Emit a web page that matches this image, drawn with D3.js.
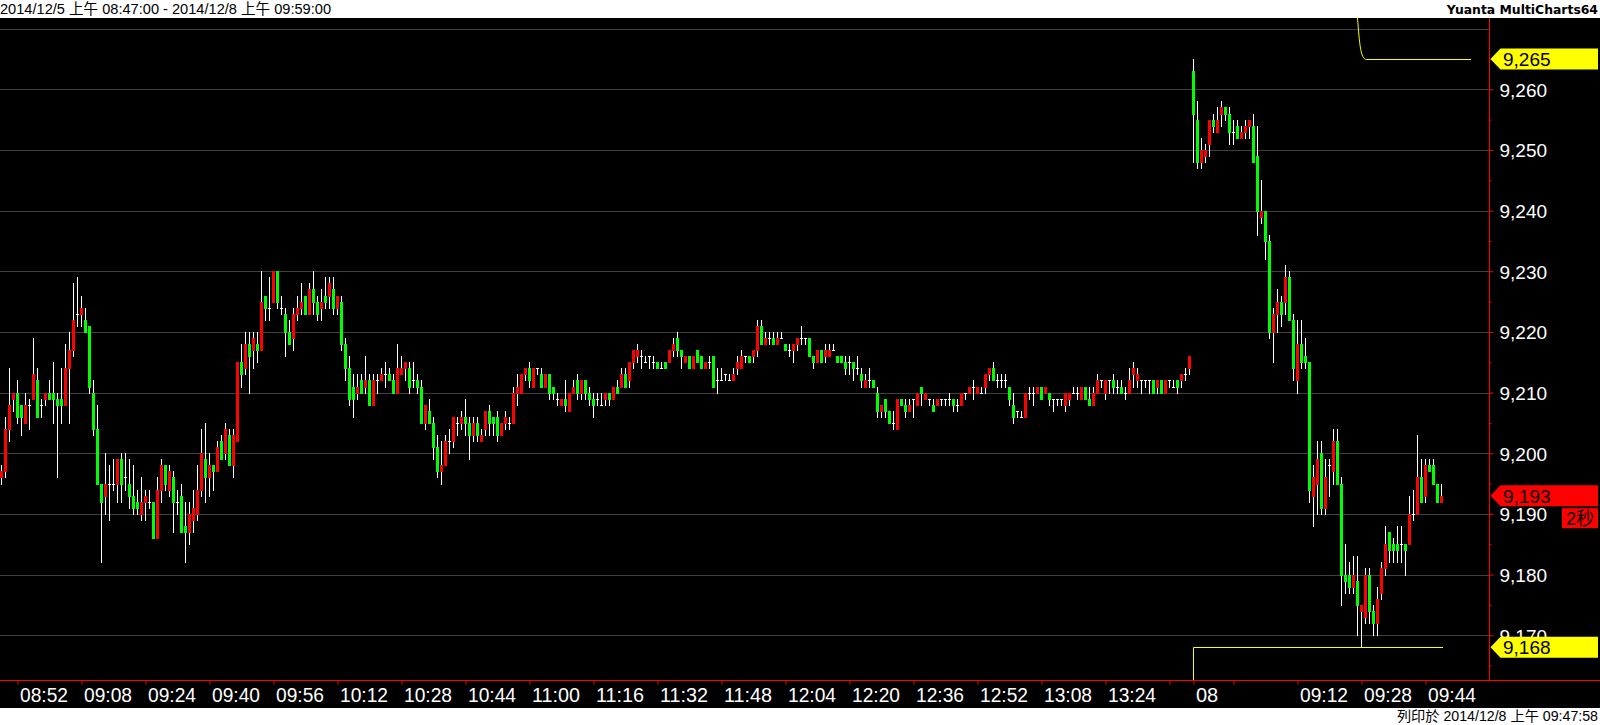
<!DOCTYPE html>
<html><head><meta charset="utf-8">
<script src="https://cdn.jsdelivr.net/npm/d3@7"></script>
<style>html,body{margin:0;padding:0;background:#fff;overflow:hidden}</style>
</head><body><svg id="c" width="1600" height="725"></svg>
<script>
// ---------- DATA ----------
const sessions = [
  {date: "2014/12/5", day: "05", start: "08:48", end: "13:45"},
  {date: "2014/12/8", day: "08", start: "08:46", end: "09:48"}
];
const opens = [
9196,9197,9204,9209,9210,9208,9205,9208,9209,9212, 9208,9209,9210,9210,9209,9209,9208,9214,9217,9223,
9223,9222,9221,9210,9204,9195,9193,9195,9195,9195, 9199,9196,9195,9193,9192,9190,9192,9192,9192,9186,
9194,9198,9194,9196,9192,9193,9188,9187,9189,9190, 9194,9199,9196,9198,9197,9202,9200,9203,9198,9202,
9215,9214,9218,9217,9218,9217,9226,9224,9225,9230, 9224,9223,9220,9219,9223,9224,9226,9223,9227,9225,
9224,9226,9226,9227,9224,9225,9218,9214,9211,9210, 9212,9211,9212,9208,9212,9212,9213,9213,9212,9210,
9213,9214,9214,9212,9212,9211,9205,9207,9205,9201, 9197,9198,9202,9202,9205,9205,9206,9205,9203,9205,
9202,9204,9207,9206,9206,9203,9205,9205,9205,9210, 9210,9213,9214,9211,9214,9213,9211,9213,9211,9209,
9208,9209,9207,9210,9212,9210,9212,9210,9209,9209, 9208,9209,9210,9209,9211,9211,9213,9212,9215,9216,
9216,9215,9216,9215,9215,9214,9215,9215,9217,9219, 9217,9215,9216,9214,9217,9216,9214,9215,9216,9212,
9212,9213,9212,9212,9214,9214,9216,9216,9216,9217, 9221,9218,9219,9219,9218,9219,9218,9217,9217,9218,
9219,9219,9219,9216,9215,9217,9216,9216,9217,9216, 9216,9215,9215,9215,9214,9213,9211,9212,9212,9210,
9207,9209,9207,9205,9204,9209,9208,9207,9209,9208, 9211,9209,9209,9208,9208,9209,9209,9209,9209,9208,
9208,9210,9210,9211,9210,9210,9211,9213,9214,9212, 9212,9212,9211,9208,9207,9206,9206,9210,9210,9210,
9211,9210,9210,9209,9209,9209,9208,9209,9210,9210, 9209,9211,9209,9208,9210,9212,9210,9212,9212,9211,
9211,9210,9210,9213,9212,9212,9212,9212,9212,9211, 9212,9210,9212,9211,9212,9212,9213,9214,
9263,9255,9248,9249,9251,9255,9253,9256,9257,9256, 9253,9254,9252,9253,9254,9254,9249,9239,9240,9235,
9220,9223,9225,9225,9229,9222,9212,9218,9216,9215, 9193,9195,9200,9191,9198,9197,9202,9195,9180,9180,
9178,9179,9174,9173,9180,9174,9172,9177,9181,9187, 9185,9185,9185,9185,9185,9190,9190,9196,9193,9198,
9198,9195,9192
];
const highs = [
9198,9206,9214,9210,9212,9208,9210,9209,9219,9214, 9209,9210,9212,9215,9210,9214,9218,9220,9228,9229,
9226,9224,9221,9212,9208,9195,9200,9198,9199,9199, 9200,9200,9199,9198,9194,9196,9194,9194,9192,9196,
9199,9198,9198,9197,9194,9195,9192,9192,9194,9198, 9204,9205,9200,9198,9202,9203,9205,9204,9204,9215,
9218,9220,9220,9220,9220,9230,9226,9229,9230,9230, 9226,9224,9222,9224,9226,9228,9226,9228,9230,9226,
9227,9229,9229,9229,9226,9226,9219,9216,9213,9213, 9213,9216,9213,9213,9213,9214,9215,9214,9213,9218,
9216,9215,9215,9215,9213,9212,9208,9209,9206,9203, 9202,9203,9204,9206,9206,9207,9209,9206,9206,9206,
9204,9207,9208,9206,9207,9205,9207,9206,9211,9213, 9213,9214,9215,9214,9214,9214,9213,9213,9211,9210,
9209,9212,9210,9212,9213,9212,9212,9211,9210,9210, 9210,9210,9210,9211,9212,9214,9214,9215,9217,9218,
9217,9216,9216,9216,9215,9215,9215,9217,9219,9220, 9217,9216,9216,9216,9217,9216,9215,9216,9216,9214,
9214,9213,9213,9214,9216,9217,9216,9216,9217,9222, 9222,9220,9220,9220,9220,9220,9218,9218,9218,9219,
9221,9219,9219,9216,9217,9217,9218,9218,9218,9216, 9216,9216,9216,9215,9216,9214,9213,9214,9212,9211,
9208,9209,9207,9207,9209,9209,9209,9209,9209,9210, 9211,9210,9209,9209,9209,9209,9209,9210,9209,9209,
9210,9210,9211,9212,9211,9211,9213,9214,9215,9213, 9213,9213,9211,9210,9207,9207,9210,9211,9211,9211,
9211,9211,9210,9209,9209,9209,9210,9210,9211,9211, 9211,9211,9211,9211,9213,9212,9212,9212,9213,9212,
9212,9211,9214,9215,9214,9212,9212,9212,9212,9212, 9212,9212,9212,9212,9212,9213,9214,9216,
9265,9258,9252,9251,9255,9256,9257,9258,9257,9257, 9255,9255,9254,9255,9255,9256,9254,9245,9240,9236,
9224,9227,9226,9231,9230,9223,9222,9222,9219,9215, 9198,9202,9202,9199,9199,9204,9204,9196,9185,9182,
9183,9183,9175,9181,9181,9175,9178,9182,9188,9187, 9186,9188,9188,9185,9193,9194,9203,9199,9199,9199,
9199,9195,9195
];
const lows = [
9195,9196,9202,9207,9205,9203,9205,9204,9209,9206, 9206,9208,9209,9205,9196,9205,9208,9205,9216,9221,
9221,9220,9210,9203,9195,9182,9190,9189,9194,9192, 9192,9194,9191,9190,9190,9189,9189,9191,9186,9186,
9192,9194,9193,9187,9190,9187,9182,9185,9187,9189, 9193,9192,9193,9194,9197,9199,9199,9198,9196,9202,
9211,9213,9210,9214,9215,9217,9222,9222,9225,9224, 9223,9216,9218,9217,9222,9223,9223,9223,9223,9222,
9222,9224,9224,9223,9223,9217,9212,9208,9206,9209, 9210,9210,9208,9208,9210,9212,9211,9212,9210,9210,
9213,9212,9210,9211,9210,9205,9204,9205,9199,9196, 9195,9198,9200,9201,9203,9204,9203,9199,9202,9202,
9202,9203,9203,9203,9202,9203,9204,9204,9205,9208, 9210,9212,9211,9211,9213,9211,9211,9209,9209,9208,
9208,9207,9207,9210,9209,9209,9209,9208,9206,9208, 9208,9208,9208,9209,9210,9211,9211,9211,9214,9215,
9214,9215,9214,9214,9214,9214,9214,9215,9216,9216, 9214,9215,9214,9214,9215,9214,9214,9214,9211,9210,
9212,9212,9212,9212,9213,9214,9215,9215,9215,9216, 9218,9218,9218,9218,9218,9219,9217,9216,9215,9217,
9218,9218,9216,9214,9215,9215,9215,9216,9217,9215, 9215,9213,9213,9212,9213,9211,9211,9211,9211,9206,
9206,9206,9205,9204,9204,9208,9206,9207,9206,9208, 9208,9209,9208,9207,9208,9208,9208,9208,9207,9207,
9208,9209,9210,9209,9210,9210,9210,9212,9212,9211, 9211,9211,9208,9205,9206,9206,9206,9209,9208,9210,
9209,9210,9208,9207,9208,9208,9207,9208,9210,9209, 9209,9209,9208,9208,9210,9211,9209,9210,9210,9210,
9210,9209,9210,9211,9211,9210,9211,9210,9210,9210, 9210,9210,9211,9211,9210,9211,9212,9213,
9248,9247,9247,9248,9249,9253,9253,9254,9255,9251, 9251,9252,9252,9252,9252,9248,9236,9238,9232,9219,
9215,9220,9221,9223,9222,9212,9210,9214,9214,9192, 9188,9190,9190,9190,9193,9195,9195,9175,9177,9177,
9177,9170,9168,9172,9172,9170,9170,9176,9180,9182, 9182,9182,9182,9180,9185,9189,9190,9192,9192,9197,
9195,9192,9192
];
const closes = [
9197,9204,9208,9210,9206,9206,9208,9208,9213,9206, 9208,9210,9209,9209,9208,9208,9214,9217,9222,9223,
9224,9220,9211,9204,9195,9192,9195,9195,9195,9199, 9195,9196,9193,9191,9191,9192,9193,9192,9186,9194,
9198,9195,9197,9192,9192,9187,9187,9190,9191,9194, 9200,9196,9198,9197,9201,9199,9204,9198,9203,9215,
9213,9218,9216,9219,9217,9225,9224,9224,9230,9225, 9224,9220,9218,9223,9224,9225,9223,9227,9225,9223,
9225,9225,9228,9224,9226,9218,9214,9209,9209,9211, 9210,9212,9208,9212,9212,9213,9213,9212,9210,9214,
9214,9215,9211,9212,9211,9205,9208,9205,9201,9197, 9198,9202,9202,9206,9205,9206,9205,9203,9205,9203,
9203,9207,9205,9205,9203,9205,9206,9205,9210,9211, 9213,9214,9212,9214,9214,9211,9213,9210,9210,9209,
9209,9208,9210,9211,9210,9212,9210,9209,9208,9209, 9208,9210,9209,9211,9210,9213,9211,9215,9217,9217,
9216,9215,9216,9215,9214,9214,9214,9217,9218,9217, 9216,9216,9214,9216,9215,9214,9215,9215,9211,9212,
9212,9213,9212,9213,9215,9216,9216,9215,9217,9221, 9218,9219,9219,9218,9219,9219,9217,9217,9218,9219,
9219,9219,9216,9215,9217,9215,9217,9217,9217,9215, 9215,9214,9215,9214,9214,9212,9212,9212,9211,9207,
9208,9207,9205,9205,9209,9208,9207,9208,9209,9210, 9210,9210,9209,9207,9209,9209,9209,9209,9208,9208,
9210,9210,9211,9211,9211,9210,9213,9214,9212,9212, 9212,9212,9209,9206,9207,9206,9210,9210,9210,9211,
9209,9211,9209,9209,9209,9209,9210,9210,9210,9210, 9211,9209,9208,9210,9212,9212,9212,9212,9211,9211,
9210,9210,9212,9214,9213,9212,9212,9212,9210,9212, 9210,9212,9212,9211,9211,9213,9213,9216,
9256,9248,9250,9250,9255,9254,9255,9257,9256,9253, 9253,9252,9253,9254,9255,9248,9240,9240,9235,9220,
9223,9225,9223,9229,9222,9214,9218,9215,9215,9194, 9196,9199,9191,9196,9198,9202,9195,9180,9179,9178,
9180,9175,9175,9180,9174,9172,9176,9181,9185,9184, 9184,9184,9185,9184,9190,9190,9196,9192,9198,9197,
9195,9192,9193
];
const priceTicks = [9170, 9180, 9190, 9200, 9210, 9220, 9230, 9240, 9250, 9260, 9270];
const timeTickKeys = ["2014/12/5 08:52","2014/12/5 09:08","2014/12/5 09:24","2014/12/5 09:40","2014/12/5 09:56",
  "2014/12/5 10:12","2014/12/5 10:28","2014/12/5 10:44","2014/12/5 11:00","2014/12/5 11:16","2014/12/5 11:32",
  "2014/12/5 11:48","2014/12/5 12:04","2014/12/5 12:20","2014/12/5 12:36","2014/12/5 12:52","2014/12/5 13:08",
  "2014/12/5 13:24","2014/12/5 13:40","2014/12/8 08:46","2014/12/8 08:56","2014/12/8 09:12","2014/12/8 09:28","2014/12/8 09:44"];
const timeTickLabels = ["08:52","09:08","09:24","09:40","09:56","10:12","10:28","10:44","11:00","11:16","11:32",
  "11:48","12:04","12:20","12:36","12:52","13:08","13:24","","08","","09:12","09:28","09:44"];
const dayHigh = 9265, dayLow = 9168, lastPrice = 9193;
const highLineStart = "2014/12/8 09:27";
const headerText = "2014/12/5 上午 08:47:00 - 2014/12/8 上午 09:59:00";
const brandText = "Yuanta MultiCharts64";
const footerText = "列印於 2014/12/8 上午 09:47:58";
const timerText = "2秒";

(function(){
// ---------- BUILD BARS ----------
const fmt = d3.timeFormat("%H:%M"), parse = d3.timeParse("%H:%M");
const keys = [];
sessions.forEach(s => {
  d3.timeMinute.range(parse(s.start), d3.timeMinute.offset(parse(s.end), 1))
    .forEach(t => keys.push(s.date + " " + fmt(t)));
});
const bars = keys.map((k, i) => ({key: k, o: opens[i], h: highs[i], l: lows[i], c: closes[i]}));

// ---------- LAYOUT ----------
const W = 1600, H = 725, plotTop = 18, axisX = 1489.5, axisY = 680.5, footTop = 708;
const svg = d3.select("#c");
svg.append("rect").attr("x",0).attr("y",0).attr("width",W).attr("height",H).attr("fill","#fff");
svg.append("rect").attr("x",0).attr("y",plotTop).attr("width",W).attr("height",footTop-plotTop).attr("fill","#000");

const x = d3.scaleBand().domain(keys).range([0, 4*keys.length]).padding(0);
const y = d3.scaleLinear().domain([9170, 9260]).range([635.2, 89.3]);

// grid
svg.append("g").selectAll("line").data(priceTicks).join("line")
  .attr("x1",0).attr("x2",axisX).attr("y1",d=>Math.round(y(d))+0.5).attr("y2",d=>Math.round(y(d))+0.5)
  .attr("stroke","#404040").attr("stroke-width",1);

svg.append("defs").append("clipPath").attr("id","pc").append("rect")
  .attr("x",0).attr("y",plotTop).attr("width",1489).attr("height",axisY-plotTop);
const plot = svg.append("g").attr("clip-path","url(#pc)");

// candles
const g = plot.append("g").attr("shape-rendering","crispEdges");
bars.forEach(b => {
  const cx = x(b.key);
  const yh = Math.round(y(b.h)), yl = Math.round(y(b.l));
  g.append("rect").attr("x",cx+1).attr("y",yh).attr("width",1).attr("height",yl-yh+1).attr("fill","#fff");
  if (b.o === b.c) {
    g.append("rect").attr("x",cx).attr("y",Math.round(y(b.o))).attr("width",3).attr("height",1).attr("fill","#fff");
  } else {
    const yt = Math.round(y(Math.max(b.o,b.c))), yb = Math.round(y(Math.min(b.o,b.c)));
    g.append("rect").attr("x",cx).attr("y",yt).attr("width",3).attr("height",yb-yt+1)
      .attr("fill", b.c > b.o ? "#ff0000" : "#00ff00");
  }
});

// day high / low lines (yellow)
const yH = Math.round(y(dayHigh))+0.5, yL = Math.round(y(dayLow))+0.5;
const d2start = x("2014/12/8 08:46") + 1.5;
const lastX = x(keys[keys.length-1]) + 3;
plot.append("path").attr("fill","none").attr("stroke","#ffff00").attr("stroke-width",1)
  .attr("d", `M${d2start},${axisY} L${d2start},${yL} L${lastX},${yL}`);
const hx = x(highLineStart) + 1.5;
plot.append("path").attr("fill","none").attr("stroke","#ffff00").attr("stroke-width",1)
  .attr("d", `M${hx},${plotTop} C${hx+2},${plotTop+25} ${hx+3},${yH} ${hx+9},${yH} L${lastX+28},${yH}`);

// axes lines
svg.append("line").attr("x1",axisX).attr("x2",axisX).attr("y1",plotTop).attr("y2",axisY).attr("stroke","#ff0000");
svg.append("line").attr("x1",0).attr("x2",W).attr("y1",axisY).attr("y2",axisY).attr("stroke","#ff0000");

// right axis
const yAxis = d3.axisRight(y).tickValues(priceTicks.filter(v=>v<9270)).tickSize(4).tickPadding(6)
  .tickFormat(d3.format(","));
const ga = svg.append("g").attr("transform",`translate(${axisX},0)`).call(yAxis);
ga.select(".domain").remove();
ga.selectAll("line").attr("stroke","#ff0000");
ga.selectAll("text").attr("fill","#fff").attr("font-family","Liberation Sans, Arial, sans-serif")
  .attr("font-size",19).attr("dy","0.36em");
const minor = d3.axisRight(y).tickValues(d3.range(9165, 9275, 10)).tickSize(2).tickFormat("");
const gm = svg.append("g").attr("transform",`translate(${axisX},0)`).call(minor);
gm.select(".domain").remove(); gm.selectAll("line").attr("stroke","#ff0000");

// bottom axis
const xAxis = d3.axisBottom(x).tickValues(timeTickKeys).tickSize(4).tickPadding(4).offset(-0.5)
  .tickFormat((d,i) => timeTickLabels[i]);
const gb = svg.append("g").attr("transform",`translate(0,${axisY})`).call(xAxis);
gb.select(".domain").remove();
gb.selectAll("line").attr("stroke","#ff0000");
gb.selectAll("text").attr("fill","#fff").attr("font-family","Liberation Sans, Arial, sans-serif")
  .attr("font-size",20).attr("text-anchor","start").attr("x",2).attr("y",7).attr("dy","0.71em")
  .each(function(){ const t=d3.select(this).text(); if(t.length===5) d3.select(this).attr("textLength",48).attr("lengthAdjust","spacingAndGlyphs"); });

// price markers
function marker(v, fill, label){
  const yc = y(v);
  svg.append("path").attr("fill",fill)
    .attr("d",`M${axisX+1},${yc} L${axisX+11},${yc-10.5} L1598,${yc-10.5} L1598,${yc+10.5} L${axisX+11},${yc+10.5} Z`);
  svg.append("text").attr("x",1503).attr("y",yc).attr("dy","0.36em").attr("fill","#000")
    .attr("font-family","Liberation Sans, Arial, sans-serif").attr("font-size",19).text(label);
}
marker(dayHigh, "#ffff00", d3.format(",")(dayHigh));
marker(dayLow, "#ffff00", d3.format(",")(dayLow));
marker(lastPrice, "#ff0000", d3.format(",")(lastPrice));
const ty = y(lastPrice) + 12.5;
svg.append("rect").attr("x",1562).attr("y",ty).attr("width",36).attr("height",20).attr("fill","#ff0000");
svg.append("text").attr("x",1580).attr("y",ty+10).attr("dy","0.36em").attr("text-anchor","middle")
  .attr("fill","#000").attr("font-family","Liberation Sans, Noto Sans CJK TC, sans-serif").attr("font-size",18).text(timerText);

// header / footer
svg.append("text").attr("x",0).attr("y",14).attr("font-family","Liberation Sans, Noto Sans CJK TC, sans-serif")
  .attr("font-size",14.6).attr("fill","#000").text(headerText);
svg.append("text").attr("x",1598).attr("y",14).attr("text-anchor","end").attr("font-weight","bold")
  .attr("font-family","DejaVu Sans, sans-serif").attr("font-size",12.4).attr("fill","#000").text(brandText);
svg.append("text").attr("x",1598).attr("y",721).attr("text-anchor","end")
  .attr("font-family","Liberation Sans, Noto Sans CJK TC, sans-serif").attr("font-size",14.2).attr("fill","#000").text(footerText);
})();
</script></body></html>
